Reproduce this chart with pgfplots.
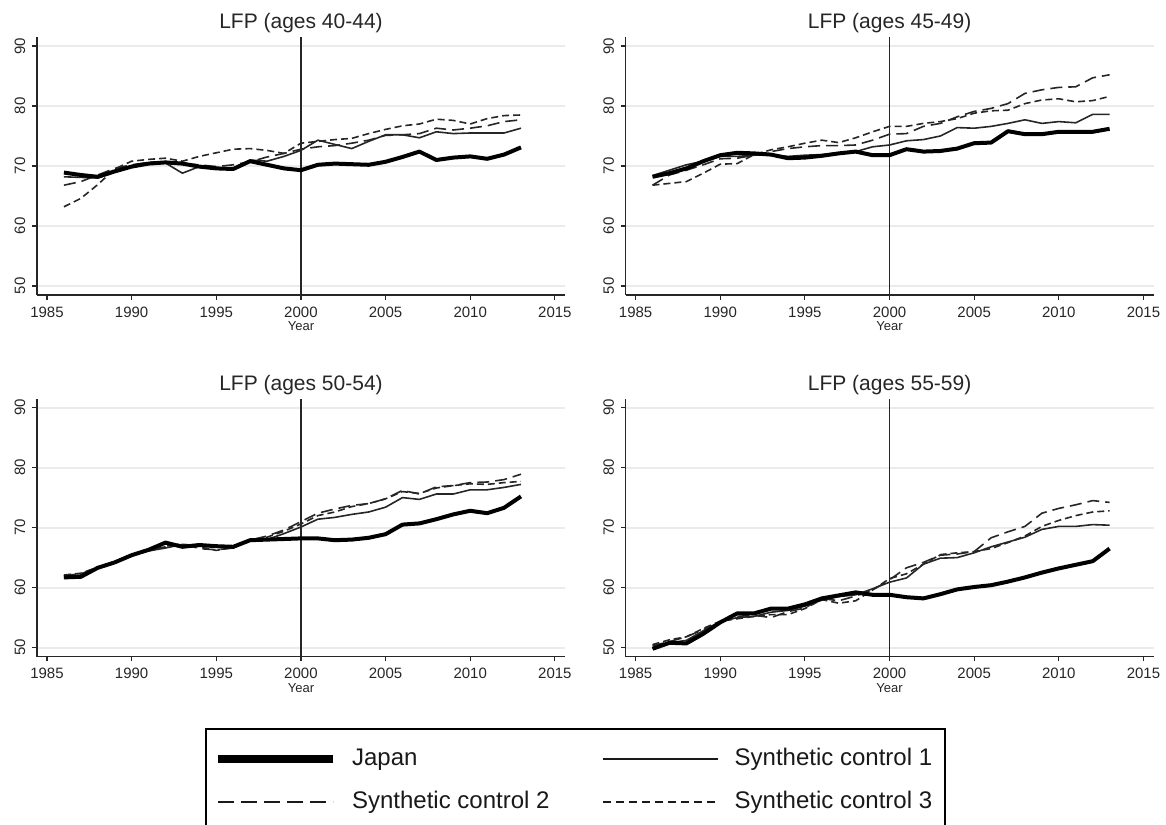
\documentclass[border=0pt]{standalone}
\usepackage{fontspec}
\setmainfont{Liberation Sans}
\usepackage{pgfplots}
\usepackage{pgfplotstable}
\pgfplotsset{compat=1.18}

% LFP, ages 40-44
\pgfplotstableread{
year jp sc1 sc2 sc3
1986 68.9 68.2 66.8 63.2
1987 68.5 68.1 67.4 64.6
1988 68.2 68.0 68.5 66.9
1989 69.1 69.0 69.6 69.5
1990 69.9 69.9 70.2 70.8
1991 70.4 70.3 70.6 71.1
1992 70.6 70.5 70.7 71.3
1993 70.4 68.8 70.4 70.8
1994 69.9 69.9 70.2 71.6
1995 69.6 69.6 69.9 72.2
1996 69.5 69.6 70.2 72.8
1997 70.8 71.0 70.7 72.9
1998 70.2 70.8 71.5 72.6
1999 69.6 71.6 72.1 72.1
2000 69.3 72.6 72.8 73.8
2001 70.2 74.3 73.2 74.1
2002 70.4 73.6 73.4 74.4
2003 70.3 72.9 73.8 74.6
2004 70.2 74.1 74.3 75.4
2005 70.7 75.2 75.1 76.1
2006 71.5 75.2 75.2 76.7
2007 72.4 74.7 75.4 77.0
2008 71.0 75.7 76.3 77.8
2009 71.4 75.4 76.0 77.6
2010 71.6 75.5 76.3 77.0
2011 71.2 75.5 76.7 77.9
2012 71.9 75.5 77.4 78.4
2013 73.1 76.3 77.7 78.5
}\tabA

% LFP, ages 45-49
\pgfplotstableread{
year jp sc1 sc2 sc3
1986 68.2 68.4 66.8 66.8
1987 68.8 69.3 68.5 67.1
1988 69.6 70.2 69.3 67.4
1989 70.8 70.8 70.2 68.8
1990 71.8 71.6 71.2 70.3
1991 72.2 71.6 71.3 70.4
1992 72.1 71.8 71.8 71.9
1993 71.9 71.9 72.4 72.7
1994 71.3 71.6 72.9 73.2
1995 71.4 71.8 73.2 73.8
1996 71.7 71.9 73.4 74.3
1997 72.1 72.2 73.4 73.9
1998 72.4 72.4 73.5 74.7
1999 71.8 73.2 74.3 75.7
2000 71.8 73.5 75.3 76.6
2001 72.8 74.2 75.4 76.6
2002 72.4 74.4 76.6 77.1
2003 72.5 75.0 77.1 77.4
2004 72.9 76.4 78.2 77.9
2005 73.8 76.3 79.1 78.8
2006 73.9 76.6 79.6 79.2
2007 75.8 77.1 80.4 79.3
2008 75.3 77.7 82.1 80.4
2009 75.3 77.1 82.7 81.0
2010 75.7 77.4 83.1 81.2
2011 75.7 77.2 83.2 80.7
2012 75.7 78.6 84.7 80.9
2013 76.2 78.6 85.2 81.6
}\tabB

% LFP, ages 50-54
\pgfplotstableread{
year jp sc1 sc2 sc3
1986 61.7 61.9 62.0 62.1
1987 61.8 62.1 62.3 62.4
1988 63.3 63.3 63.3 63.4
1989 64.2 64.2 64.2 64.3
1990 65.4 65.4 65.5 65.5
1991 66.3 66.1 66.2 66.3
1992 67.5 66.6 66.9 66.8
1993 66.8 67.2 67.3 67.1
1994 67.1 67.0 66.5 66.8
1995 66.9 66.8 66.3 66.2
1996 66.8 66.6 66.6 66.7
1997 67.9 67.9 67.9 67.8
1998 68.0 68.0 68.6 68.4
1999 68.1 69.0 69.6 69.4
2000 68.2 70.1 71.0 70.6
2001 68.2 71.4 72.4 72.0
2002 67.9 71.7 73.1 72.6
2003 68.0 72.2 73.7 73.5
2004 68.3 72.6 74.0 74.0
2005 68.9 73.4 74.8 74.8
2006 70.5 75.0 76.2 76.0
2007 70.7 74.7 75.6 75.7
2008 71.4 75.6 76.8 76.6
2009 72.2 75.6 77.0 77.0
2010 72.8 76.3 77.5 77.3
2011 72.4 76.3 77.6 77.2
2012 73.3 76.7 78.0 77.5
2013 75.2 77.2 78.9 77.7
}\tabC

% LFP, ages 55-59
\pgfplotstableread{
year jp sc1 sc2 sc3
1986 49.8 49.9 50.3 50.5
1987 50.8 50.8 51.0 51.3
1988 50.7 51.2 51.8 51.8
1989 52.3 52.8 53.0 53.2
1990 54.2 54.3 54.2 54.4
1991 55.7 55.0 55.2 54.8
1992 55.7 55.2 55.4 55.2
1993 56.5 55.9 55.0 55.5
1994 56.5 56.2 56.0 55.5
1995 57.2 56.9 56.6 56.5
1996 58.2 57.9 58.2 58.0
1997 58.7 58.5 57.8 57.4
1998 59.2 58.8 58.6 57.8
1999 58.8 59.8 59.6 59.6
2000 58.8 60.9 61.3 61.5
2001 58.4 61.6 63.3 62.3
2002 58.2 63.9 64.2 63.9
2003 58.9 64.9 65.4 65.5
2004 59.7 65.0 65.6 65.8
2005 60.1 65.8 66.0 66.0
2006 60.4 66.8 68.3 66.5
2007 61.0 67.6 69.3 67.5
2008 61.7 68.4 70.2 68.6
2009 62.5 69.7 72.4 70.2
2010 63.2 70.2 73.2 71.2
2011 63.8 70.2 73.8 72.0
2012 64.4 70.5 74.5 72.6
2013 66.5 70.4 74.2 72.8
}\tabD

\pgfplotsset{
  panel/.style={
    scale only axis, width=264pt, height=129pt, anchor=south west,
    xmin=1984.41, xmax=2015.6, ymin=48.5, ymax=91.5,
    axis x line*=bottom, axis y line*=left,
    axis line style={-, line width=0.8pt, black!85},
    xtick={1985,1990,...,2015}, ytick={50,60,...,90},
    tick align=outside, major tick length=2.3pt,
    every tick/.style={black!85, line width=0.6pt},
    ymajorgrids, grid style={black!8, line width=1pt},
    tick label style={font=\fontsize{7.5}{8}\selectfont, text=black!85},
    yticklabel style={rotate=90, anchor=south},
    xticklabel style={/pgf/number format/1000 sep={}},
    /pgf/number format/assume math mode=true,
    title style={font=\fontsize{10.5}{12}\selectfont, text=black!85,
      at={(0.5,1)}, anchor=base, yshift=-1.8pt},
    xlabel={Year},
    xlabel style={font=\fontsize{6.5}{7}\selectfont, text=black!85,
      at={(axis description cs:0.5,0)}, anchor=base, yshift=-17.8pt},
  },
  jp/.style={black, line width=2pt, line join=round},
  s1/.style={black!85, line width=0.8pt, line join=round},
  s2/.style={black!85, line width=0.8pt, dash pattern=on 6pt off 3pt},
  s3/.style={black!85, line width=0.8pt, dash pattern=on 3.5pt off 2pt},
  vl/.style={black!85, line width=0.6pt},
}

\begin{document}
\begin{tikzpicture}
\useasboundingbox (0,0) rectangle (583pt,412pt);
\clip (0,0) rectangle (583pt,412pt);

\begin{axis}[panel, at={(18.5pt,264.5pt)}, title={LFP (ages 40-44)}]
  \addplot[vl] coordinates {(2000,48.5) (2000,91.5)};
  \addplot[s3] table[x=year, y=sc3] {\tabA};
  \addplot[s2] table[x=year, y=sc2] {\tabA};
  \addplot[s1] table[x=year, y=sc1] {\tabA};
  \addplot[jp] table[x=year, y=jp] {\tabA};
\end{axis}

\begin{axis}[panel, at={(312.8pt,264.5pt)}, title={LFP (ages 45-49)}]
  \addplot[vl] coordinates {(2000,48.5) (2000,91.5)};
  \addplot[s3] table[x=year, y=sc3] {\tabB};
  \addplot[s2] table[x=year, y=sc2] {\tabB};
  \addplot[s1] table[x=year, y=sc1] {\tabB};
  \addplot[jp] table[x=year, y=jp] {\tabB};
\end{axis}

\begin{axis}[panel, at={(18.5pt,83.7pt)}, title={LFP (ages 50-54)}]
  \addplot[vl] coordinates {(2000,48.5) (2000,91.5)};
  \addplot[s3] table[x=year, y=sc3] {\tabC};
  \addplot[s2] table[x=year, y=sc2] {\tabC};
  \addplot[s1] table[x=year, y=sc1] {\tabC};
  \addplot[jp] table[x=year, y=jp] {\tabC};
\end{axis}

\begin{axis}[panel, at={(312.8pt,83.7pt)}, title={LFP (ages 55-59)}]
  \addplot[vl] coordinates {(2000,48.5) (2000,91.5)};
  \addplot[s3] table[x=year, y=sc3] {\tabD};
  \addplot[s2] table[x=year, y=sc2] {\tabD};
  \addplot[s1] table[x=year, y=sc1] {\tabD};
  \addplot[jp] table[x=year, y=jp] {\tabD};
\end{axis}

% shared legend, in an empty axis over the whole picture
\begin{axis}[
  at={(0pt,0pt)}, anchor=south west, scale only axis,
  width=583pt, height=412pt, hide axis,
  xmin=0, xmax=1, ymin=0, ymax=1,
  legend columns=2, legend cell align=left,
  legend image code/.code={\draw[#1] (0pt,0pt) -- (57.5pt,0pt);},
  legend style={at={(0.1758,0.1165)}, anchor=north west,
    draw=black, line width=0.9pt, inner xsep=4.5pt, inner ysep=7.25pt,
    font=\fontsize{12}{14}\selectfont, text=black!90,
    nodes={inner sep=2pt, text height=9pt, text depth=2.5pt},
    row sep=6pt,
    /tikz/every odd column/.append style={column sep=5.5pt},
    /tikz/every even column/.append style={column sep=24.3pt}},
]
  \addlegendimage{black, line width=3.6pt}
  \addlegendentry{Japan}
  \addlegendimage{black!90, line width=1.2pt}
  \addlegendentry{Synthetic control 1}
  \addlegendimage{black!90, line width=1.3pt, dash pattern=on 8pt off 3.5pt}
  \addlegendentry{Synthetic control 2}
  \addlegendimage{black!90, line width=1.3pt, dash pattern=on 4pt off 2.5pt}
  \addlegendentry{Synthetic control 3}
\end{axis}
\end{tikzpicture}
\end{document}
